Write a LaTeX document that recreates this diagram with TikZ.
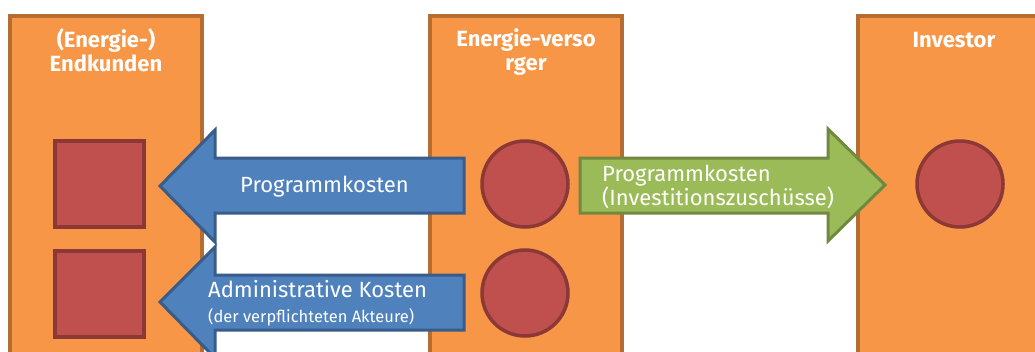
\documentclass[tikz,border=0pt]{standalone}
\usepackage{fontspec}
\setmainfont{Fira Sans}
\begin{document}
\begin{tikzpicture}[x=1pt,y=-1pt,
  column/.style={draw=colEdge,fill=colFill,line width=3.5pt},
  sq/.style={draw=redEdge,fill=redFill,line width=3.5pt},
  bluearrow/.style={draw=blueEdge,fill=blueFill,line width=3pt,line join=miter},
  greenarrow/.style={draw=greenEdge,fill=greenFill,line width=3pt,line join=miter},
  title/.style={text=white,font=\bfseries\fontsize{22}{24}\selectfont,align=center,anchor=base,inner sep=0pt},
  label/.style={text=white,font=\fontsize{22}{24}\selectfont,align=left,anchor=base west,inner sep=0pt}]
\definecolor{colFill}{HTML}{F79646}
\definecolor{colEdge}{HTML}{B66D31}
\definecolor{redFill}{HTML}{C0504D}
\definecolor{redEdge}{HTML}{8C3836}
\definecolor{blueFill}{HTML}{4F81BD}
\definecolor{blueEdge}{HTML}{385D8A}
\definecolor{greenFill}{HTML}{9BBB59}
\definecolor{greenEdge}{HTML}{71893F}
\useasboundingbox (0,0) rectangle (1035,351);
\clip (0,0) rectangle (1035,351);
\fill[white] (0,0) rectangle (1035,351);
% columns
\draw[column] (10,16) rectangle (202,380);
\draw[column] (430,16) rectangle (622,380);
\draw[column] (858,16) rectangle (1060,380);
% column titles (base anchor = baseline of the last line)
\node[title] (t1) at (106,71) {(Energie-)\\Endkunden};
\node[title] (t2) at (526,70) {Energie-verso\\rger};
\node[title] (t3) at (954,47) {Investor};
% customers
\draw[sq] (55,141) rectangle (144,227);
\draw[sq] (55,251) rectangle (144,337);
% arrows
\draw[bluearrow] (464,158) -- (215,158) -- (215,130) -- (160,186) -- (215,242) -- (215,213) -- (464,213) -- cycle;
\draw[bluearrow] (464,275) -- (215,275) -- (215,247) -- (160,302) -- (215,358) -- (215,330) -- (464,330) -- cycle;
\draw[greenarrow] (580,158) -- (828,158) -- (828,129) -- (885,185) -- (828,241) -- (828,213) -- (580,213) -- cycle;
% suppliers and investor
\draw[sq] (525,184) circle (43);
\draw[sq] (525,293) circle (43);
\draw[sq] (960,184) circle (43);
% arrow labels
\node[label] (l1) at (240,192) {Programmkosten};
\node[label] (l2) at (208,297) {Administrative Kosten};
\node[label,font=\fontsize{16.5}{20}\selectfont] (l3) at (208,322) {(der verpflichteten Akteure)};
\node[label] (l4) at (602,205) {Programmkosten\\(Investitionszuschüsse)};
\end{tikzpicture}
\end{document}
